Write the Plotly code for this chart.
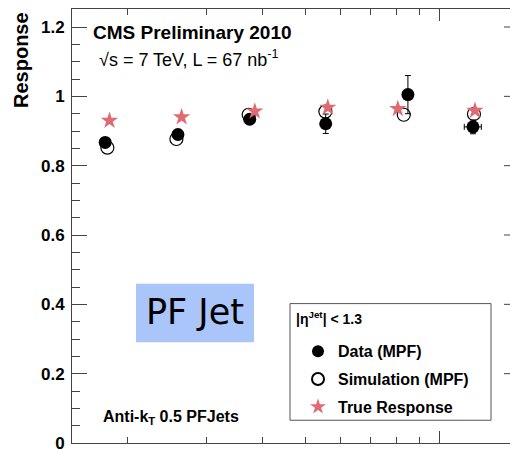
import plotly.graph_objects as go

# Jet pT bin centres (GeV) for each measurement
pt_data = [17.8, 25.9, 37.5, 55.5, 84.8, 118.6]
pt_sim = [18.0, 25.7, 37.3, 55.4, 83.0, 119.2]
pt_true = [18.2, 26.4, 38.5, 56.1, 80.5, 119.8]

# Response values
resp_data = [0.867, 0.890, 0.934, 0.921, 1.005, 0.912]
resp_data_err = [0.008, 0.010, 0.010, 0.028, 0.055, 0.020]
pt_data_err = [0.0, 0.0, 0.0, 0.0, 0.0, 5.2]
resp_sim = [0.852, 0.877, 0.947, 0.956, 0.947, 0.949]
resp_true = [0.930, 0.940, 0.957, 0.968, 0.964, 0.959]

y_ticks = [0, 0.2, 0.4, 0.6, 0.8, 1.0, 1.2]
y_ticktext = ["0", "0.2", "0.4", "0.6", "0.8", "1", "1.2"]
x_major = [100]
x_minor = [20, 30, 40, 50, 60, 70, 80, 90]

W, H = 510, 453
L, R, T, B = 72, 0, 9, 5
PW, PH = W - L - R, H - T - B


def px(x):
    return (x - L) / PW


def py(y):
    return (H - B - y) / PH


FONT = "Liberation Sans"
AX = "#444444"
STAR = "#e06a72"

fig = go.Figure()

fig.add_trace(go.Scatter(
    x=pt_data, y=resp_data, mode="markers", name="Data (MPF)",
    legendgroup="a",
    marker=dict(symbol="circle", size=13, color="black"),
    error_y=dict(type="data", array=resp_data_err, color="black", thickness=1, width=3),
    error_x=dict(type="data", array=pt_data_err, color="black", thickness=1, width=3),
))
fig.add_trace(go.Scatter(
    x=pt_sim, y=resp_sim, mode="markers", name="Simulation (MPF)",
    legendgroup="b",
    marker=dict(symbol="circle-open", size=13, color="black", line=dict(width=1.2, color="black")),
))
fig.add_trace(go.Scatter(
    x=pt_true, y=resp_true, mode="markers", name="True Response",
    legendgroup="c",
    marker=dict(symbol="star", size=13, color=STAR, line=dict(width=0)),
))

shapes = []
# right-hand frame tick stubs
for v in y_ticks[1:]:
    shapes.append(dict(type="line", xref="paper", yref="y", x0=1 - 6 / PW, x1=1,
                       y0=v, y1=v, line=dict(color=AX, width=1)))
# legend frame
shapes.append(dict(type="rect", xref="paper", yref="paper",
                   x0=px(290), x1=px(491), y0=py(307), y1=py(425),
                   fillcolor="white", line=dict(color="#555555", width=1), layer="below"))
# PF Jet label box
shapes.append(dict(type="rect", xref="paper", yref="paper",
                   x0=px(136), x1=px(254), y0=py(287), y1=py(346),
                   fillcolor="#a9c5fa", line=dict(width=0), layer="below"))

annotations = [
    dict(text="<b>Response</b>", textangle=-90, xref="paper", yref="paper",
         x=px(21), y=py(10), xanchor="center", yanchor="top", showarrow=False,
         font=dict(family=FONT, size=20, color="black")),
    dict(text="<b>CMS Preliminary 2010</b>", xref="paper", yref="paper",
         x=px(91), y=py(33), xanchor="left", yanchor="middle", showarrow=False,
         font=dict(family=FONT, size=19, color="black")),
    dict(text="\u221as = 7 TeV, L = 67 nb<sup>-1</sup>", xref="paper", yref="paper",
         x=px(97), y=py(59), xanchor="left", yanchor="middle", showarrow=False,
         font=dict(family=FONT, size=18, color="black")),
    dict(text="<b>Anti-k<sub>T</sub> 0.5 PFJets</b>", xref="paper", yref="paper",
         x=px(101), y=py(422), xanchor="left", yanchor="middle", showarrow=False,
         font=dict(family=FONT, size=16, color="black")),
    dict(text="PF Jet", xref="paper", yref="paper",
         x=px(195), y=py(315), xanchor="center", yanchor="middle", showarrow=False,
         font=dict(family="DejaVu Sans", size=35, color="black")),
    # legend header
    dict(text="<b>|\u03b7<sup>Jet</sup>| < 1.3</b>", xref="paper", yref="paper",
         x=px(294), y=py(322), xanchor="left", yanchor="middle", showarrow=False,
         font=dict(family=FONT, size=14, color="black")),
]

fig.update_layout(
    width=W, height=H,
    margin=dict(l=L, r=R, t=T, b=B),
    paper_bgcolor="white", plot_bgcolor="white",
    shapes=shapes, annotations=annotations,
    showlegend=True,
    legend=dict(
        x=px(298), y=py(338), xanchor="left", yanchor="top",
        bgcolor="rgba(0,0,0,0)", borderwidth=0,
        font=dict(family=FONT, size=16, color="black", weight="bold"),
        tracegroupgap=4, itemsizing="constant",
    ),
    xaxis=dict(
        type="log", range=[1.1761, 2.157], showgrid=False, zeroline=False,
        showline=True, linecolor=AX, linewidth=1, mirror="ticks",
        ticks="inside", tickvals=x_major, ticklen=12, tickcolor=AX,
        showticklabels=False,
        minor=dict(tickvals=x_minor, ticks="inside", ticklen=6, tickcolor=AX),
    ),
    yaxis=dict(
        range=[0, 1.252], showgrid=False, zeroline=False,
        showline=True, linecolor=AX, linewidth=1,
        ticks="inside", tickvals=y_ticks, ticktext=y_ticktext, ticklen=15, tickcolor=AX,
        tickfont=dict(family=FONT, size=17, color="black", weight="bold"),
        ticklabelstandoff=3, ticklabeloverflow="allow",
        minor=dict(dtick=0.05, tick0=0, ticks="inside", ticklen=8, tickcolor=AX),
    ),
)

fig.write_html("out.html")
